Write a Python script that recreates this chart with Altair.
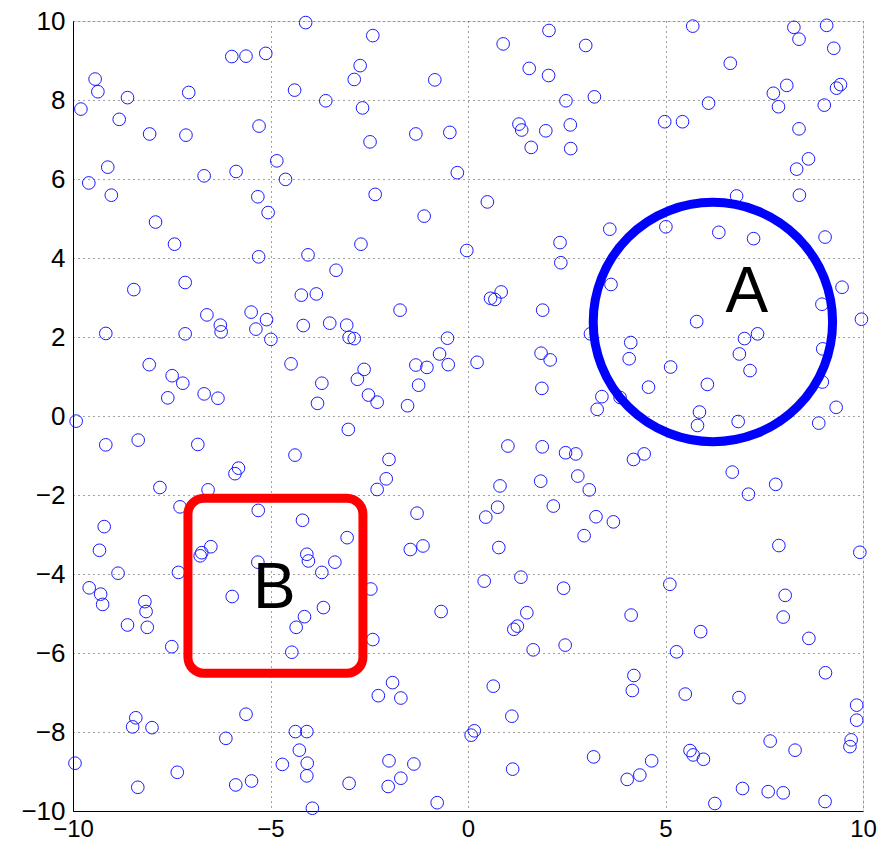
import altair as alt
import pandas as pd

# scatter points
xs = [
    -9.80, -9.44, -9.37, -8.62, -8.83, -8.06, -7.14, -7.07, -5.98, -5.62,
    -5.12, -4.11, -4.39, -3.60, -5.29, -9.12, -9.60, -9.03, -6.68, -5.87,
    -4.84, -4.62, -5.32, -5.06, -7.91, -7.43, -5.30, -4.05, -8.46, -7.16,
    -2.41, -2.73, -2.88, -0.84, -2.67, -1.32, -0.46, -2.48, -0.27, -2.35,
    -1.11, 0.49, -2.71, -0.03, -3.34, 0.89, 2.05, 2.98, 1.55, 2.04,
    2.48, 3.20, 1.29, 1.36, 1.97, 2.59, 1.60, 2.60, 2.33, 2.35,
    5.69, 8.25, 9.08, 8.38, 9.26, 6.64, 8.07, 7.73, 9.43, 9.33,
    7.86, 9.02, 6.09, 4.98, 5.43, 8.38, 8.62, 8.32, 8.39, 6.80,
    3.59, 5.01, 6.35, 7.23, 9.04, 3.62, 9.47,
    -9.17, -7.16, -6.61, -6.27, -6.25, -5.49, -5.10, -5.37, -4.99, -4.22,
    -3.84, -4.17, -3.50, -8.07, -7.49, -7.22, -7.60, -6.68, -6.33, -4.48,
    -3.70, -3.81, -9.92, -9.17, -8.35, -6.84, -4.38, -5.81, -5.90, -7.80,
    -6.58, -7.29, -5.31, -4.19, -9.21, -9.33, -6.51, -6.74, -6.78, -4.08,
    -4.04, -3.07, -3.01, -2.88, -1.72, -0.52, -0.72, -0.50, -1.32, -1.04,
    -1.25, -1.53, -2.63, -2.80, -2.52, -2.30, -3.03, 0.23, 0.57, 0.68,
    0.84, 1.89, 1.85, 2.08, 1.87, 3.10, 3.27, 1.01, 1.88, 2.47,
    2.73, 2.78, 3.07, 1.84, 0.81, 0.75, 0.45, 2.16, 2.94, 3.24,
    0.78, -2.00, -2.07, -2.30, -1.29, -3.06, -1.46, -1.14, 5.79, 7.00,
    7.33, 6.87, 7.14, 4.12, 4.08, 5.13, 4.57, 6.06, 3.39, 3.85,
    5.86, 5.81, 6.84, 8.88, 9.32, 8.98, 8.97, 8.96, 9.96, 4.19,
    4.46, 6.69, 7.10, 7.79, 3.68, 7.87, 9.92,
    -8.86, -7.33, -9.59, -9.30, -9.25, -8.18, -8.15, -8.62, -8.12, -7.50,
    -5.32, -5.97, -3.70, -3.66, -4.14, -4.35, -4.46, -8.41, -8.49, -8.00,
    -5.62, -6.13, -9.95, -7.36, -8.36, -5.88, -5.48, -4.37, -4.08, -4.27,
    -4.07, -4.70, -4.08, -3.94, -3.37, -2.46, -2.41, -0.68, 0.41, 1.34,
    2.42, 1.49, 1.25, 1.16, 1.65, 2.46, -1.91, -2.27, -1.70, 0.64,
    1.11, 0.16, 0.08, 3.18, 1.13, -2.00, -1.37, -3.01, -2.02, -1.70,
    -0.78, 5.11, 8.03, 7.98, 4.13, 5.89, 8.63, 5.28, 9.05, 4.20,
    4.16, 5.50, 6.86, 9.84, 9.84, 7.65, 8.28, 9.70, 9.67, 5.62,
    5.70, 5.96, 4.65, 4.35, 4.03, 6.95, 7.60, 7.98, 6.25, 9.04,
]
ys = [
    7.77, 8.53, 8.21, 8.06, 7.51, 7.14, 7.11, 8.19, 9.10, 9.11,
    9.18, 9.96, 8.25, 7.98, 7.34, 6.30, 5.90, 5.59, 6.08, 6.19,
    6.46, 5.99, 5.55, 5.15, 4.91, 4.35, 4.03, 4.08, 3.20, 3.38,
    9.63, 8.87, 8.52, 8.51, 7.80, 7.14, 7.18, 6.94, 6.16, 5.61,
    5.06, 5.42, 4.35, 4.19, 3.69, 9.42, 9.76, 9.38, 8.80, 8.62,
    7.98, 8.08, 7.39, 7.24, 7.22, 7.37, 6.80, 6.77, 4.39, 3.88,
    9.87, 9.84, 9.89, 9.54, 9.31, 8.93, 8.37, 8.17, 8.39, 8.30,
    7.83, 7.87, 7.92, 7.45, 7.45, 7.27, 6.51, 6.25, 5.59, 5.57,
    4.73, 4.79, 4.65, 4.49, 4.53, 3.33, 3.26,
    2.09, 2.08, 2.56, 2.30, 2.13, 2.63, 2.44, 2.20, 1.94, 3.06,
    3.09, 2.29, 2.35, 1.30, 1.02, 0.83, 0.46, 0.56, 0.45, 1.32,
    0.83, 0.32, -0.13, -0.73, -0.61, -0.72, -0.99, -1.32, -1.46, -1.81,
    -1.87, -2.30, -2.39, -2.64, -2.80, -3.40, -3.31, -3.46, -3.54, -3.50,
    -3.67, 2.30, 1.99, 1.96, 2.68, 1.97, 1.57, 1.30, 1.29, 1.23,
    0.78, 0.26, 1.18, 0.93, 0.53, 0.35, -0.34, 1.36, 2.98, 2.95,
    3.14, 2.68, 1.59, 1.42, 0.70, 2.08, 0.17, -0.76, -0.78, -0.93,
    -0.96, -1.52, -1.87, -1.65, -1.77, -2.31, -2.56, -2.28, -3.03, -2.55,
    -3.33, -1.10, -1.59, -1.86, -2.46, -3.08, -3.38, -3.29, 2.39, 1.96,
    2.08, 1.57, 1.15, 1.86, 1.45, 1.24, 0.73, 0.80, 0.49, 0.47,
    0.10, -0.24, -0.14, -0.18, 0.22, 1.70, 0.86, 2.83, 2.45, -1.10,
    -0.96, -1.42, -1.98, -1.73, -2.68, -3.28, -3.45,
    -3.98, -3.96, -4.35, -4.51, -4.77, -4.70, -4.95, -5.29, -5.35, -5.84,
    -3.70, -4.57, -3.96, -4.85, -5.08, -5.35, -5.98, -7.64, -7.87, -7.89,
    -7.55, -8.16, -8.79, -9.02, -9.40, -9.34, -9.24, -7.99, -7.99, -8.46,
    -8.79, -8.82, -9.11, -9.93, -3.70, -4.38, -5.66, -4.95, -4.18, -4.08,
    -4.36, -4.98, -5.32, -5.40, -5.92, -5.80, -6.75, -7.08, -7.14, -6.84,
    -7.60, -7.97, -8.08, -8.63, -8.94, -8.73, -8.81, -9.30, -9.38, -9.17,
    -9.79, -4.26, -4.54, -5.09, -5.04, -5.46, -5.63, -5.97, -6.50, -6.57,
    -6.95, -7.04, -7.13, -7.32, -7.70, -8.23, -8.46, -8.20, -8.37, -8.47,
    -8.58, -8.69, -8.73, -9.09, -9.20, -9.43, -9.51, -9.54, -9.81, -9.76,
]

# annotations
circle_a = {"x": 6.20, "y": 2.38, "label": "A", "lx": 7.06, "ly": 2.63}
box_b = {"x1": -7.09, "x2": -2.66, "y1": -2.08, "y2": -6.51, "label": "B", "lx": -4.90, "ly": -4.86}

x_ticks = [-10, -5, 0, 5, 10]
y_ticks = [-10, -8, -6, -4, -2, 0, 2, 4, 6, 8, 10]

W = 790
H = 790
PX_PER_UNIT = W / 20.0
ring_radius_units = 3.03
ring_size = (2 * ring_radius_units * PX_PER_UNIT) ** 2

FONT = "Liberation Sans"

pts = pd.DataFrame({"x": xs, "y": ys})
xscale = alt.Scale(domain=[-10, 10], nice=False, zero=False)
yscale = alt.Scale(domain=[-10, 10], nice=False, zero=False)

xaxis = alt.Axis(values=x_ticks, title=None, ticks=False, grid=True,
                 gridDash=[1, 4], gridColor="#444", gridWidth=1,
                 labelFontSize=24, labelFont=FONT, labelColor="black",
                 labelPadding=6, domainColor="black", labelFlush=False)
yaxis = alt.Axis(values=y_ticks, title=None, ticks=False, grid=True,
                 gridDash=[1, 4], gridColor="#444", gridWidth=1,
                 labelFontSize=26, labelFont=FONT, labelColor="black",
                 labelPadding=8, domainColor="black", labelFlush=False)

scatter = alt.Chart(pts).mark_point(
    shape="circle", filled=False, size=160, strokeWidth=1, color="#1a1aff", opacity=1
).encode(
    x=alt.X("x:Q", scale=xscale, axis=xaxis),
    y=alt.Y("y:Q", scale=yscale, axis=yaxis),
)

ring_df = pd.DataFrame([circle_a])
ring = alt.Chart(ring_df).mark_point(
    shape="circle", filled=False, size=ring_size, strokeWidth=9, color="#0000ff", opacity=1
).encode(x=alt.X("x:Q", scale=xscale), y=alt.Y("y:Q", scale=yscale))

box_df = pd.DataFrame([box_b])
box = alt.Chart(box_df).mark_rect(
    cornerRadius=16, fill="transparent", stroke="#ff0000", strokeWidth=9
).encode(
    x=alt.X("x1:Q", scale=xscale), x2="x2:Q",
    y=alt.Y("y1:Q", scale=yscale), y2="y2:Q",
)

labels_df = pd.DataFrame([
    {"lx": circle_a["lx"], "ly": circle_a["ly"], "label": circle_a["label"]},
    {"lx": box_b["lx"], "ly": box_b["ly"], "label": box_b["label"]},
])
labels = alt.Chart(labels_df).mark_text(
    fontSize=64, font=FONT, baseline="alphabetic", align="center", color="black"
).encode(
    x=alt.X("lx:Q", scale=xscale), y=alt.Y("ly:Q", scale=yscale), text="label:N"
)

chart = alt.layer(scatter, ring, box, labels).properties(
    width=W, height=H,
    autosize=alt.AutoSizeParams(type="none"),
    padding={"left": 65, "top": 13, "right": 16, "bottom": 31},
).configure_view(stroke="black", strokeWidth=1).configure(background="white")

chart.save("out.html", embed_options={"renderer": "svg", "actions": False})
